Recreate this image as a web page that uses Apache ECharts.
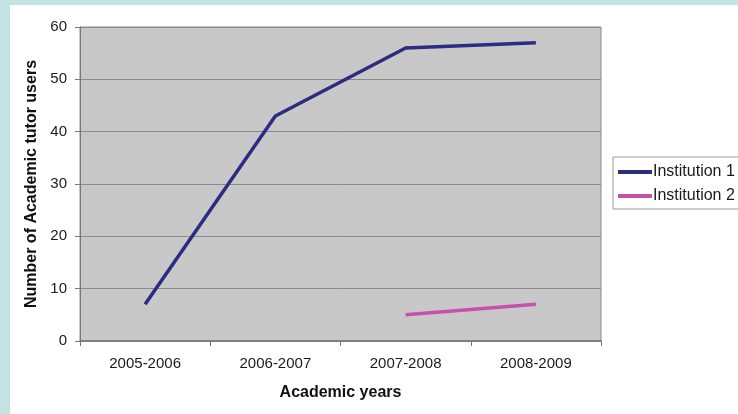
<!DOCTYPE html>
<html>
<head>
<meta charset="utf-8">
<script src="https://cdn.jsdelivr.net/npm/echarts@6/dist/echarts.min.js"></script>
<style>
  html, body { margin: 0; padding: 0; background: #c3e4e2; }
  #chart { width: 738px; height: 414px; }
</style>
</head>
<body>
<div id="chart"></div>
<script>
// Academic tutor usage per academic year
const years = ['2005-2006', '2006-2007', '2007-2008', '2008-2009'];
const institution1 = [7, 43, 56, 57];
const institution2 = [null, null, 5, 7];
const yTicks = [0, 10, 20, 30, 40, 50, 60];

const font = '"Liberation Sans", Arial, sans-serif';
const chart = echarts.init(document.getElementById('chart'));

chart.setOption({
  animation: false,
  backgroundColor: '#c3e4e2',
  graphic: [{
    type: 'rect',
    z: -10,
    shape: { x: 10, y: 5, width: 728, height: 409 },
    style: { fill: '#ffffff' }
  }],
  grid: {
    left: 80, top: 27, right: 137, bottom: 73,
    show: true,
    backgroundColor: '#c8c8c8',
    borderColor: '#8a8a8a',
    borderWidth: 1
  },
  legend: {
    orient: 'vertical',
    left: 613, top: 157,
    padding: [7, 40, 5, 5],
    itemGap: 8,
    itemWidth: 34,
    itemHeight: 4,
    icon: 'rect',
    backgroundColor: '#ffffff',
    borderColor: '#999',
    borderWidth: 1,
    textStyle: { fontFamily: font, fontSize: 16, color: '#1a1a1a', padding: [0, 0, 0, -4] },
    data: ['Institution 1', 'Institution 2']
  },
  xAxis: {
    type: 'category',
    data: years,
    boundaryGap: true,
    name: 'Academic years',
    nameLocation: 'middle',
    nameGap: 44,
    nameTextStyle: { fontFamily: font, fontSize: 16, fontWeight: 'bold', color: '#111' },
    axisLine: { lineStyle: { color: '#777', width: 1.5 } },
    axisTick: { show: true, alignWithLabel: false, length: 5, lineStyle: { color: '#777' } },
    axisLabel: { fontFamily: font, fontSize: 15, color: '#1a1a1a', margin: 15 }
  },
  yAxis: {
    type: 'value',
    min: 0, max: 60, interval: 10,
    name: 'Number of Academic tutor users',
    nameLocation: 'middle',
    nameGap: 39,
    nameTextStyle: { fontFamily: font, fontSize: 16, fontWeight: 'bold', color: '#111' },
    axisLine: { show: true, lineStyle: { color: '#777' } },
    axisTick: { show: true, length: 5, lineStyle: { color: '#777' } },
    axisLabel: {
      fontFamily: font, fontSize: 15, color: '#1a1a1a', margin: 13,
      formatter: v => yTicks.includes(v) ? String(v) : ''
    },
    splitLine: { show: true, lineStyle: { color: '#8a8a8a', width: 1 } }
  },
  series: [
    {
      name: 'Institution 1',
      type: 'line',
      data: institution1,
      symbol: 'none',
      color: '#2c2c82',
      lineStyle: { width: 3.5, color: '#2c2c82' }
    },
    {
      name: 'Institution 2',
      type: 'line',
      data: institution2,
      symbol: 'none',
      color: '#c452aa',
      lineStyle: { width: 3.5, color: '#c452aa' }
    }
  ]
});
</script>
</body>
</html>
